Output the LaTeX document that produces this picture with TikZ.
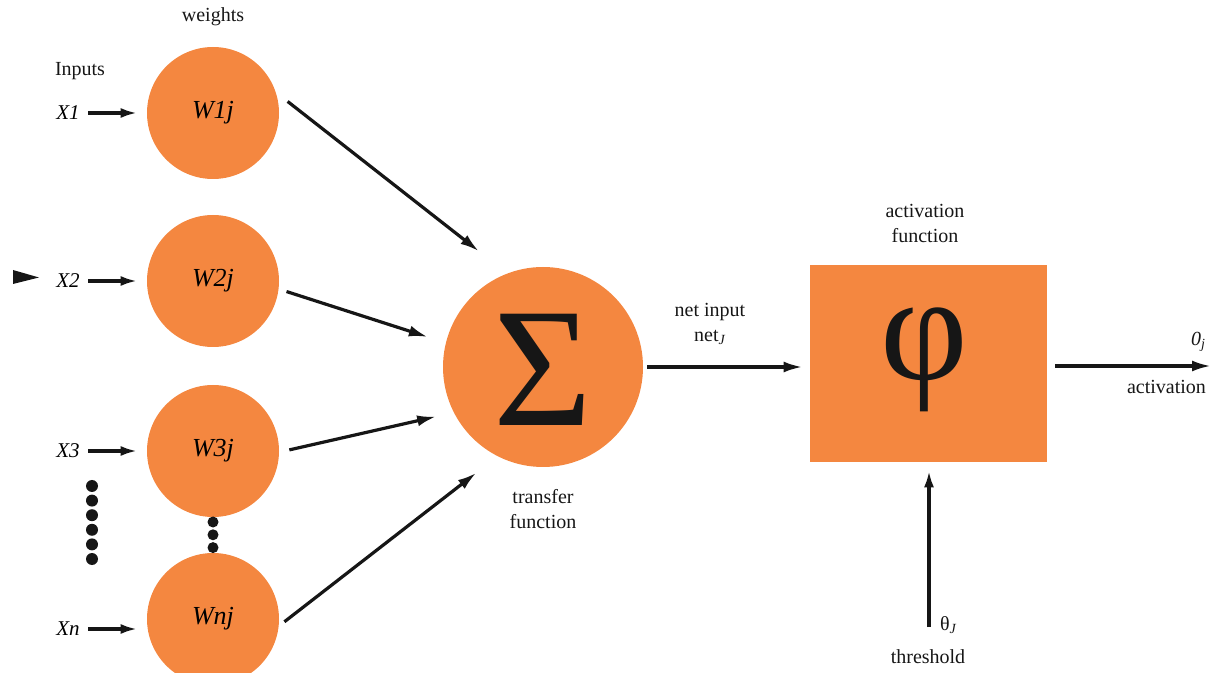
\documentclass[tikz,border=0pt]{standalone}
\usepackage{fontspec}
\setmainfont{Liberation Serif}
\usetikzlibrary{arrows.meta,positioning}
\definecolor{nodeOrange}{HTML}{F48740}
\definecolor{ink}{HTML}{161616}

\begin{document}
\begin{tikzpicture}[x=0.5pt,y=-0.5pt,font=\rmfamily\fontsize{10}{12}\selectfont,
  weight/.style={circle,fill=nodeOrange,minimum size=66pt,inner sep=0pt,font=\rmfamily\fontsize{13}{15}\selectfont\itshape},
  inp/.style={anchor=east,inner sep=0pt,font=\rmfamily\fontsize{10.5}{12}\selectfont\itshape},
  dot/.style={circle,fill=ink,inner sep=0pt,minimum size=6pt},
  feed/.style={-{Latex[length=8.5pt,width=5pt]},line width=2.2pt,ink},
  link/.style={-{Latex[length=9.5pt,width=5.5pt]},line width=1.6pt,ink},
  lbl/.style={align=center,text=ink}]
\useasboundingbox (0,0) rectangle (1221,673);

% inputs and weights
\node[lbl] (wtitle) at (213,17) {weights};
\node[lbl] (ititle) at (80,71) {Inputs};
\node[weight] (w1) at (213,113) {W1j};
\node[weight] (w2) at (213,281) {W2j};
\node[weight] (w3) at (213,451) {W3j};
\node[weight] (wn) at (213,619) {Wnj};
\node[inp] (x1) at (80,113) {X1};
\node[inp] (x2) at (80,281) {X2};
\node[inp] (x3) at (80,451) {X3};
\node[inp] (xn) at (80,629) {Xn};
\draw[feed,shorten <=4pt,shorten >=4.5pt] (x1.east) -- (w1);
\draw[feed,shorten <=4pt,shorten >=4.5pt] (x2.east) -- (w2);
\draw[feed,shorten <=4pt,shorten >=4.5pt] (x3.east) -- (w3);
\draw[feed,shorten <=4pt,shorten >=4.5pt] (xn.east) -- (xn.east -| wn.west);
\fill[ink] (13,270) -- (39,277.5) -- (13,284) -- cycle;

% dots for the skipped inputs
\foreach \k in {0,...,5}
  \node[dot] (ld\k) at (92,{486+14.6*\k}) {};
\foreach \k in {0,1,2}
  \node[dot,minimum size=5.5pt] (md\k) at (213,{522+12.8*\k}) {};

% transfer function
\node[circle,fill=nodeOrange,minimum size=100pt,inner sep=0pt] (sum) at (543,367) {};
\node[text=ink,font=\rmfamily\fontsize{85}{85}\selectfont] at (543,370) {Σ};
\node[lbl] (tf) at (543,509) {transfer\\[0.5pt]function};
\draw[link,shorten <=7.3pt,shorten >=17.8pt] (w1.18) -- (sum.111.7);
\draw[link,shorten <=4pt,shorten >=9.3pt] (w2.-7.4) -- (sum.166.5);
\draw[link,shorten <=5.1pt,shorten >=8.9pt] (w3.-1) -- (sum.207.5);
\draw[link,shorten <=3.4pt,shorten >=13.3pt] (wn.-6.2) -- (sum.243.9);

% activation function
\node[fill=nodeOrange,minimum width=118.5pt,minimum height=98.5pt,inner sep=0pt] (act) at (928.5,363.5) {};
\node[text=ink,font=\rmfamily\fontsize{76}{76}\selectfont] at (924,360) {φ};
\node[lbl] (aft) at (925,223) {activation\\[0.5pt]function};
\node[lbl] (netin) at (710,324) {net input\\[0.5pt]net\textsubscript{\itshape J}};
\draw[link,shorten <=2pt,shorten >=3.5pt] (sum.east) -- (sum.east -| act.west);

% output and threshold
\coordinate (out) at (1211,366);
\draw[link,shorten <=4pt] (act.east |- out) -- (out);
\node[lbl,anchor=east] (oj) at (1213,342) {\itshape 0\textsubscript{j}};
\node[lbl,anchor=east] (actv) at (1213,387) {activation};
\coordinate (thr) at (929,627);
\draw[feed,shorten >=4pt] (thr) -- (thr |- act.south);
\node[lbl,anchor=west] (theta) at (933,625) {θ\textsubscript{\itshape J}};
\node[lbl] (thl) at (928,657) {threshold};
\end{tikzpicture}
\end{document}
